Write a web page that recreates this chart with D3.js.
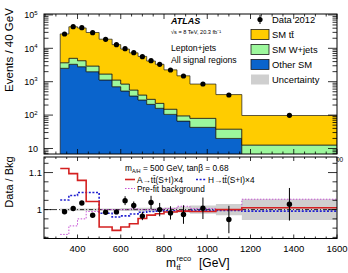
<!DOCTYPE html>
<html>
<head>
<meta charset="utf-8">
<script src="https://cdn.jsdelivr.net/npm/d3@7"></script>
<style>
body { margin: 0; background: #fff; }
text { font-family: "Liberation Sans", Arial, sans-serif; fill: #000; }
</style>
</head>
<body>
<script>
// bin edges (GeV) and per-bin contents (events / 40 GeV)
var edges   = [320, 360, 400, 440, 500, 560, 600, 640, 680, 720, 760, 800, 860, 920, 1040, 1160, 1600];
var dataEv  = [26800, 44300, 41400, 29300, 18600, 12800, 9730, 7380, 5610, 4250, 3320, 2240, 1480, 853, 400, 98.6];
var ttbar   = [23260, 39150, 36410, 26800, 17030, 11755, 8647, 6736, 5310, 3873, 3095, 2110, 1405, 770, 373, 84.5];
var wjets   = [1180, 1700, 1450, 960, 575, 417, 326, 191, 117, 87, 65, 45, 29, 37, 18, 8.7];
var otherSM = [2520, 3320, 2810, 1990, 1125, 708, 527, 373, 283, 210, 160, 105, 66, 43, 20, 4];

// ratio panel
var ratioErr = [0.004, 0.004, 0.004, 0.005, 0.005, 0.006, 0.012, 0.011, 0.011, 0.018, 0.018, 0.018, 0.025, 0.029, 0.037, 0.044];
var bkgUnc   = [0.003, 0.003, 0.003, 0.003, 0.003, 0.003, 0.004, 0.004, 0.005, 0.005, 0.005, 0.006, 0.008, 0.011, 0.015, 0.028];
var sigA     = [1.111, 1.097, 1.079, 1.022, 0.953, 0.944, 0.953, 0.962, 0.976, 0.985, 0.989, 0.9935, 0.996, 0.995, 1.0, 1.005];
var sigH     = [1.026, 1.038, 1.046, 1.046, 0.99, 0.98, 0.983, 0.988, 0.993, 0.995, 0.996, 0.997, 0.997, 0.998, 0.998, 0.996];
var prefit   = [0.933, 0.956, 0.975, 0.995, 1.0, 1.0, 1.0, 1.002, 1.0, 1.0, 1.001, 1.003, 1.009, 1.003, 1.0, 1.028];

var xTicks = [400, 600, 800, 1000, 1200, 1400, 1600];
var rTicks = [1, 1.1];

var width = 348, height = 273;
var L = 44, R = 337, T1 = 14, B1 = 154, T2 = 157, B2 = 238.5;

var svg = d3.select("body").append("svg")
    .attr("width", width)
    .attr("height", height);

var x = d3.scaleLinear().domain([245, 1600]).range([L, R]);
var y = d3.scaleLog().domain([Math.pow(10, 0.835), Math.pow(10, 5.027)]).range([B1, T1]);
var yr = d3.scaleLinear().domain([0.922, 1.142]).range([B2, T2]);

var defs = svg.append("defs");
defs.append("clipPath").attr("id", "c1").append("rect")
    .attr("x", L).attr("y", T1).attr("width", R - L).attr("height", B1 - T1);
defs.append("clipPath").attr("id", "c2").append("rect")
    .attr("x", L).attr("y", T2).attr("width", R - L).attr("height", B2 - T2);

function steps(vals) {
  var p = [];
  vals.forEach(function(v, i) { p.push([edges[i], v]); p.push([edges[i + 1], v]); });
  return p;
}
function mid(i) { return (edges[i] + edges[i + 1]) / 2; }

// ---------- top panel ----------
var rows = dataEv.map(function(d, i) {
  return {other: otherSM[i], wjets: wjets[i], tt: ttbar[i]};
});
var stack = d3.stack().keys(["other", "wjets", "tt"])(rows);
var fills = {other: "#0a64cc", wjets: "#9cf79c", tt: "#ffcc00"};

var area = d3.area()
    .x(function(d) { return x(d[0]); })
    .y0(function(d) { return y(Math.max(d[1], 0.1)); })
    .y1(function(d) { return y(Math.max(d[2], 0.1)); });

var topG = svg.append("g").attr("clip-path", "url(#c1)");
stack.forEach(function(s) {
  var pts = [];
  s.forEach(function(d, i) { pts.push([edges[i], d[0], d[1]]); pts.push([edges[i + 1], d[0], d[1]]); });
  topG.append("path")
      .attr("d", area(pts))
      .attr("fill", fills[s.key])
      .attr("stroke", "#1a1a1a")
      .attr("stroke-width", 0.7);
});

topG.selectAll("circle.d")
    .data(dataEv)
    .enter().append("circle")
    .attr("cx", function(d, i) { return x(mid(i)); })
    .attr("cy", function(d) { return y(d); })
    .attr("r", 2.6)
    .attr("fill", "#000");

// hidden x labels of the top pad (only the tail of "1600" shows)
svg.append("text").attr("x", 336).attr("y", 162).attr("font-size", 6.5)
    .attr("text-anchor", "middle").attr("fill", "#444").text("1600");

// ---------- ratio panel ----------
svg.append("rect").attr("x", L).attr("y", T2 - 1.5).attr("width", R - L + 0.5).attr("height", B2 - T2 + 1.5).attr("fill", "#fff");

var rp = svg.append("g").attr("clip-path", "url(#c2)");

var bandPts = [];
bkgUnc.forEach(function(u, i) { bandPts.push([edges[i], u]); bandPts.push([edges[i + 1], u]); });
rp.append("path")
    .attr("d", d3.area()
        .x(function(d) { return x(d[0]); })
        .y0(function(d) { return yr(1 - d[1]); })
        .y1(function(d) { return yr(1 + d[1]); })(bandPts))
    .attr("fill", "#cfcfcf");

rp.append("line")
    .attr("x1", L).attr("x2", R).attr("y1", yr(1)).attr("y2", yr(1))
    .attr("stroke", "#000").attr("stroke-width", 0.8)
    .attr("stroke-dasharray", "4,2,1,2");

var stepLine = d3.line()
    .x(function(d) { return x(d[0]); })
    .y(function(d) { return yr(d[1]); });

rp.append("path").attr("d", stepLine(steps(prefit)))
    .attr("fill", "none").attr("stroke", "#c040d0").attr("stroke-width", 0.9)
    .attr("stroke-dasharray", "1.5,1.5");
rp.append("path").attr("d", stepLine(steps(sigH)))
    .attr("fill", "none").attr("stroke", "#2020d0").attr("stroke-width", 1.6)
    .attr("stroke-dasharray", "2,1.6");
rp.append("path").attr("d", stepLine(steps(sigA)))
    .attr("fill", "none").attr("stroke", "#d42020").attr("stroke-width", 1.6);

var ratio = dataEv.map(function(d, i) { return d / (ttbar[i] + wjets[i] + otherSM[i]); });

rp.selectAll("line.err")
    .data(ratio)
    .enter().append("line")
    .attr("x1", function(d, i) { return x(mid(i)); })
    .attr("x2", function(d, i) { return x(mid(i)); })
    .attr("y1", function(d, i) { return yr(d - ratioErr[i]); })
    .attr("y2", function(d, i) { return yr(d + ratioErr[i]); })
    .attr("stroke", "#000").attr("stroke-width", 1);
rp.selectAll("circle.r")
    .data(ratio)
    .enter().append("circle")
    .attr("cx", function(d, i) { return x(mid(i)); })
    .attr("cy", function(d) { return yr(d); })
    .attr("r", 2.7)
    .attr("fill", "#000");

// ---------- frames and ticks ----------
var axes = svg.append("g").attr("stroke", "#000").attr("fill", "none");
axes.append("rect").attr("x", L).attr("y", T1).attr("width", R - L).attr("height", B1 - T1).attr("stroke-width", 1);
axes.append("rect").attr("x", L).attr("y", T2).attr("width", R - L).attr("height", B2 - T2).attr("stroke-width", 1);

function xTicksAt(yPos, dir, lMaj, lMin) {
  d3.range(250, 1601, 50).forEach(function(v) {
    var len = (v % 200 === 0) ? lMaj : lMin;
    axes.append("line").attr("x1", x(v)).attr("x2", x(v))
        .attr("y1", yPos).attr("y2", yPos + dir * len).attr("stroke-width", 0.8);
  });
}
xTicksAt(T1, 1, 5, 2.5);
xTicksAt(B1, -1, 5, 2.5);
xTicksAt(T2, 1, 4, 2);
xTicksAt(B2, -1, 4, 2);

function yTick(yPos, len) {
  axes.append("line").attr("x1", L).attr("x2", L + len).attr("y1", yPos).attr("y2", yPos).attr("stroke-width", 0.8);
  axes.append("line").attr("x1", R).attr("x2", R - len).attr("y1", yPos).attr("y2", yPos).attr("stroke-width", 0.8);
}
[1, 10, 100, 1000, 10000].forEach(function(dec) {
  for (var k = 1; k <= 9; k++) {
    var v = k * dec;
    if (v < y.domain()[0] || v > y.domain()[1]) continue;
    yTick(y(v), k === 1 ? 9 : 4.5);
  }
});
yTick(y(100000), 9);
d3.range(0.925, 1.141, 0.025).forEach(function(v) {
  var major = Math.abs(v - 1) < 1e-6 || Math.abs(v - 1.1) < 1e-6;
  yTick(yr(v), major ? 9 : 4.5);
});

// ---------- tick labels ----------
xTicks.forEach(function(v) {
  svg.append("text").attr("x", x(v)).attr("y", 251.5).attr("font-size", 9.5)
      .attr("text-anchor", "middle").text(v);
});

[2, 3, 4, 5].forEach(function(p) {
  var t = svg.append("text").attr("x", 37.5).attr("y", y(Math.pow(10, p)) + 3.3)
      .attr("font-size", 9).attr("text-anchor", "end");
  t.append("tspan").text("10");
  t.append("tspan").attr("font-size", 6).attr("dy", -3.5).text(p);
});
svg.append("text").attr("x", 38).attr("y", y(10) + 3.3).attr("font-size", 9)
    .attr("text-anchor", "end").text("10");

rTicks.forEach(function(v) {
  svg.append("text").attr("x", 42).attr("y", yr(v) + 3.4).attr("font-size", 9.5)
      .attr("text-anchor", "end").text(v === 1 ? "1" : "1.1");
});

// ---------- axis titles ----------
svg.append("text").attr("transform", "translate(12.5,50) rotate(-90)")
    .attr("font-size", 11.5).attr("text-anchor", "middle").text("Events / 40 GeV");
svg.append("text").attr("transform", "translate(12.5,182) rotate(-90)")
    .attr("font-size", 11).attr("text-anchor", "middle").text("Data / Bkg");

var xt = svg.append("text").attr("y", 267).attr("font-size", 12);
xt.append("tspan").attr("x", 166).text("m");
xt.append("tspan").attr("x", 176.5).attr("dy", 3).attr("font-size", 7.5).text("tt\u0304");
xt.append("tspan").attr("x", 176.5).attr("dy", -9).attr("font-size", 7.5).text("reco");
xt.append("tspan").attr("x", 199).attr("dy", 6).text("[GeV]");

// ---------- top labels ----------
svg.append("text").attr("x", 171).attr("y", 23.5).attr("font-size", 9)
    .attr("font-weight", "bold").attr("font-style", "italic").text("ATLAS");
svg.append("text").attr("x", 171).attr("y", 34.3).attr("font-size", 5.6)
    .text("\u221As = 8 TeV, 20.3 fb\u207B\u00B9");
svg.append("text").attr("x", 171).attr("y", 50.5).attr("font-size", 8.7).text("Lepton+jets");
svg.append("text").attr("x", 171).attr("y", 62.7).attr("font-size", 8.7).text("All signal regions");

// legend
svg.append("line").attr("x1", 260).attr("x2", 260).attr("y1", 15).attr("y2", 24)
    .attr("stroke", "#000").attr("stroke-width", 1);
svg.append("circle").attr("cx", 260).attr("cy", 19.5).attr("r", 2.6).attr("fill", "#000");
svg.append("text").attr("x", 272).attr("y", 23).attr("font-size", 9.4).text("Data 2012");

var legItems = [
  {label: "SM tt\u0304", fill: fills.tt, stroke: "#1a1a1a"},
  {label: "SM W+jets", fill: fills.wjets, stroke: "#1a1a1a"},
  {label: "Other SM", fill: fills.other, stroke: "#1a1a1a"},
  {label: "Uncertainty", fill: "#cfcfcf", stroke: "none"}
];
legItems.forEach(function(d, i) {
  var yy = 29.5 + i * 15;
  svg.append("rect").attr("x", 251).attr("y", yy).attr("width", 18).attr("height", 10)
      .attr("fill", d.fill).attr("stroke", d.stroke).attr("stroke-width", 0.8);
  svg.append("text").attr("x", 272).attr("y", yy + 8.5).attr("font-size", 9.4).text(d.label);
});

// ratio legend
var l1 = svg.append("text").attr("x", 125).attr("y", 170.8).attr("font-size", 8.3);
l1.append("tspan").text("m");
l1.append("tspan").attr("font-size", 5.2).attr("dy", 1.8).text("A/H");
l1.append("tspan").attr("dy", -1.8).text(" = 500 GeV, tan\u03B2 = 0.68");

svg.append("line").attr("x1", 125).attr("x2", 135).attr("y1", 179.5).attr("y2", 179.5)
    .attr("stroke", "#d42020").attr("stroke-width", 1.6);
svg.append("text").attr("x", 137).attr("y", 182.5).attr("font-size", 8.3).text("A\u2192tt\u0304(S+I)\u00D74");
svg.append("line").attr("x1", 196).attr("x2", 206).attr("y1", 179.5).attr("y2", 179.5)
    .attr("stroke", "#2020d0").attr("stroke-width", 1.6).attr("stroke-dasharray", "2,1.6");
svg.append("text").attr("x", 208).attr("y", 182.5).attr("font-size", 8.3).text("H\u2192tt\u0304(S+I)\u00D74");
svg.append("line").attr("x1", 125).attr("x2", 135).attr("y1", 188.5).attr("y2", 188.5)
    .attr("stroke", "#c040d0").attr("stroke-width", 0.9).attr("stroke-dasharray", "1.5,1.5");
svg.append("text").attr("x", 137).attr("y", 191.5).attr("font-size", 8.3).text("Pre-fit background");
</script>
</body>
</html>
